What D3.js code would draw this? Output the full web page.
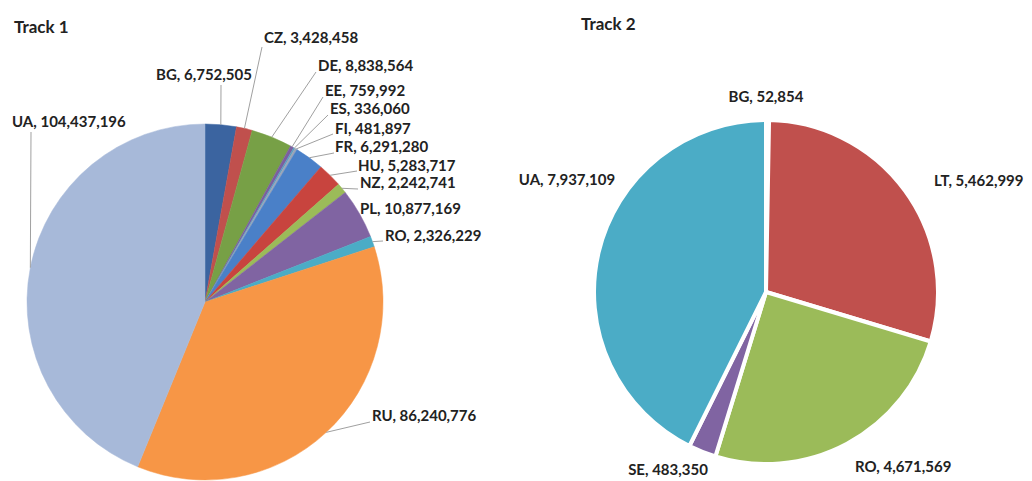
<!DOCTYPE html>
<html>
<head>
<meta charset="utf-8">
<script src="https://cdn.jsdelivr.net/npm/d3@7"></script>
<style>
  body { margin: 0; background: #fff; }
  text { font-family: Lato, "Open Sans", sans-serif; font-weight: bold; fill: #222; }
</style>
</head>
<body>
<div id="chart"></div>
<script>
// data
const track1Codes = ["BG", "CZ", "DE", "EE", "ES", "FI", "FR", "HU", "NZ", "PL", "RO", "RU", "UA"];
const track1Values = [6752505, 3428458, 8838564, 759992, 336060, 481897, 6291280, 5283717, 2242741, 10877169, 2326229, 86240776, 104437196];
const track1Colors = ["#3b64a0", "#c0504d", "#77a046", "#7b5fa0", "#5a9fc0", "#9aa4b8", "#4a80c8", "#c8443e", "#9bbb59", "#8064a2", "#4bacc6", "#f79646", "#a7b9d9"];

const track2Codes = ["BG", "LT", "RO", "SE", "UA"];
const track2Values = [52854, 5462999, 4671569, 483350, 7937109];
const track2Colors = ["#4f81bd", "#c0504d", "#9bbb59", "#8064a2", "#4bacc6"];

// label layout: text x,y, anchor, leader start (null = no leader)
const track1Labels = [
  {x: 204, y: 80, a: "middle", l: [221, 85]},
  {x: 264, y: 43, a: "start", l: [262, 47]},
  {x: 318, y: 71, a: "start", l: [316, 72]},
  {x: 325, y: 96, a: "start", l: [323, 97]},
  {x: 330, y: 114, a: "start", l: [328, 115]},
  {x: 335, y: 134, a: "start", l: [333, 134]},
  {x: 335, y: 152, a: "start", l: [334, 153]},
  {x: 358, y: 171, a: "start", l: [357, 171]},
  {x: 360, y: 188, a: "start", l: [358, 189]},
  {x: 360, y: 214, a: "start", l: null},
  {x: 385, y: 241, a: "start", l: [383, 241]},
  {x: 372, y: 421, a: "start", l: [370, 422]},
  {x: 12, y: 127, a: "start", l: [31, 132]}
];
const track2Labels = [
  {x: 766, y: 102, a: "middle"},
  {x: 934, y: 186, a: "start"},
  {x: 855, y: 472, a: "start"},
  {x: 668, y: 475, a: "middle"},
  {x: 567, y: 185, a: "middle"}
];

const fmt = d3.format(",");

const svg = d3.select("#chart")
  .append("svg")
    .attr("width", 1032)
    .attr("height", 481);

function drawPie(codes, values, colors, labels, cx, cy, r, title, tx, ty, gap) {
  const data = codes.map((c, i) => ({code: c, value: values[i], color: colors[i], lab: labels[i]}));

  const pie = d3.pie()
    .value(d => d.value)
    .sort(null);

  const arc = d3.arc()
    .innerRadius(0)
    .outerRadius(r);

  // point on the rim at the middle of each slice, for the leaders
  const rim = d3.arc()
    .innerRadius(r)
    .outerRadius(r);

  const g = svg.append("g")
    .attr("transform", `translate(${cx},${cy})`);

  const slices = pie(data);

  g.selectAll("path")
    .data(slices)
    .join("path")
      .attr("d", arc)
      .attr("fill", d => d.data.color)
      .attr("stroke", gap ? "#fff" : d => d.data.color)
      .attr("stroke-width", gap ? gap : 0.5)
      .attr("stroke-linejoin", "round");

  // leader lines
  g.selectAll("line")
    .data(slices.filter(d => d.data.lab.l))
    .join("line")
      .attr("x1", d => d.data.lab.l[0] - cx)
      .attr("y1", d => d.data.lab.l[1] - cy)
      .attr("x2", d => rim.centroid(d)[0])
      .attr("y2", d => rim.centroid(d)[1])
      .attr("stroke", "#a0a0a0")
      .attr("stroke-width", 1);

  svg.append("g")
    .selectAll("text")
    .data(slices)
    .join("text")
      .attr("x", d => d.data.lab.x)
      .attr("y", d => d.data.lab.y)
      .attr("text-anchor", d => d.data.lab.a)
      .style("font-size", "15px")
      .text(d => `${d.data.code}, ${fmt(d.data.value)}`);

  svg.append("text")
    .attr("x", tx)
    .attr("y", ty)
    .style("font-size", "17px")
    .text(title);
}

drawPie(track1Codes, track1Values, track1Colors, track1Labels, 205, 302, 178, "Track 1", 14, 33, 0);
drawPie(track2Codes, track2Values, track2Colors, track2Labels, 766, 292, 172, "Track 2", 581, 30, 4);
</script>
</body>
</html>
